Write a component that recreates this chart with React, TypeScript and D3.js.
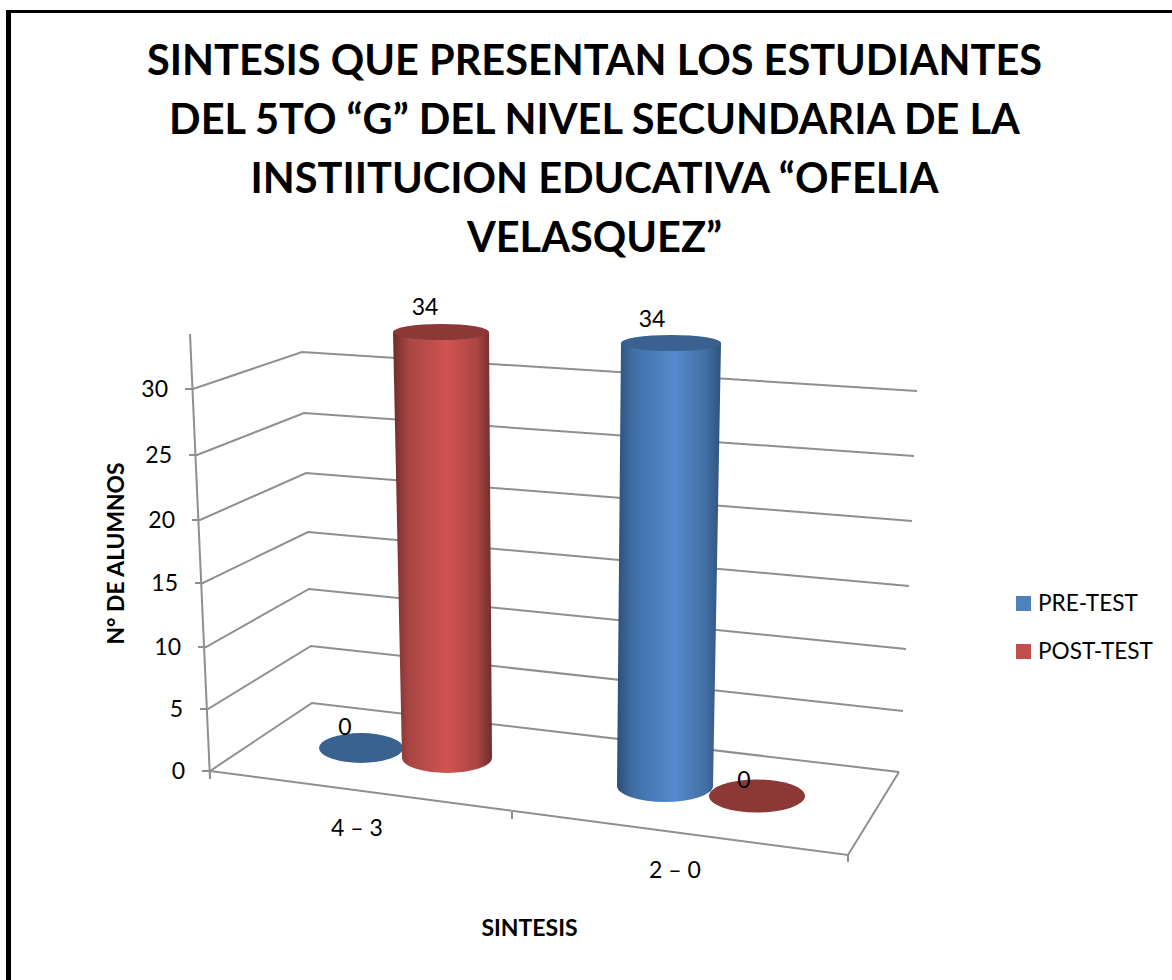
import React from "react";
import * as d3 from "d3";

const titleLines = [
  "SINTESIS QUE PRESENTAN LOS ESTUDIANTES",
  "DEL 5TO “G” DEL NIVEL SECUNDARIA DE LA",
  "INSTIITUCION EDUCATIVA “OFELIA",
  "VELASQUEZ”",
];
const categories = ["4 – 3", "2 – 0"];
const seriesNames = ["PRE-TEST", "POST-TEST"];
const preTest = [0, 34];
const postTest = [34, 0];
const yTicks = [0, 5, 10, 15, 20, 25, 30];
const xAxisTitle = "SINTESIS";
const yAxisTitle = "N° DE ALUMNOS";

const FONT = "Lato, 'Open Sans', sans-serif";
const GRID = "#8f8f8f";

// perspective of the 3D box, expressed as piecewise scales over the value axis
const frontX = d3.scaleLinear().domain(yTicks).range([210, 208, 206, 203, 200, 197, 193]);
const frontY = d3.scaleLinear().domain(yTicks).range([771, 709, 647, 583, 520, 455, 389]);
const backX = d3.scaleLinear().domain(yTicks).range([312, 311, 309, 308, 306, 304, 302]);
const backY = d3.scaleLinear().domain(yTicks).range([703, 646, 589, 532, 473, 413, 352]);
const rightX = d3.scaleLinear().domain(yTicks).range([899, 903, 906, 909, 912, 914, 917]);
const rightY = d3.scaleLinear().domain(yTicks).range([772, 711, 649, 586, 521, 456, 391]);

const catX = d3.scaleLinear().domain([0, 1, 2]).range([210, 512, 848]);
const catY = d3.scaleLinear().domain([0, 1, 2]).range([771, 812, 855]);

// geometry of each cylinder slot [category][series]
const slots = [
  [
    { bx: 361, by: 748, brx: 42, bry: 15, tx: 357, trx: 41, labelX: 345, labelY: 727 },
    { bx: 447, by: 758, brx: 45, bry: 15, tx: 441, trx: 48, labelX: 425, labelY: 307 },
  ],
  [
    { bx: 665, by: 786, brx: 48, bry: 16, tx: 671, trx: 50, labelX: 652, labelY: 319 },
    { bx: 757, by: 796, brx: 48, bry: 16.5, tx: 760, trx: 47, labelX: 744, labelY: 780 },
  ],
];
const barTop = [
  [null, 332],
  [343, null],
];
const palette = [
  { top: "#3a6291", id: "gradBlue", legend: "#4f81bd" },
  { top: "#8c3836", id: "gradRed", legend: "#c0504d" },
];

function cylinderPath(bx: number, by: number, brx: number, bry: number, tx: number, trx: number, ty: number) {
  return `M${tx - trx},${ty} L${bx - brx},${by} A${brx},${bry} 0 0 0 ${bx + brx},${by} L${tx + trx},${ty} Z`;
}

export default function App() {
  const series = [preTest, postTest];
  const marks = categories.flatMap((_, c) =>
    series.map((values, s) => ({ c, s, v: values[c], slot: slots[c][s], top: barTop[c][s] }))
  );

  return (
    <svg
      width={1172}
      height={980}
      viewBox="0 0 1172 980"
      style={{ position: "absolute", left: 0, top: 0, background: "#fff" }}
      fontFamily={FONT}
    >
      <defs>
        <linearGradient id="gradBlue" x1="0" x2="1" y1="0" y2="0">
          <stop offset="0" stopColor="#2c4f7a" />
          <stop offset="0.16" stopColor="#406fa6" />
          <stop offset="0.55" stopColor="#558ace" />
          <stop offset="0.85" stopColor="#426fa5" />
          <stop offset="1" stopColor="#2f527c" />
        </linearGradient>
        <linearGradient id="gradRed" x1="0" x2="1" y1="0" y2="0">
          <stop offset="0" stopColor="#6f2d2b" />
          <stop offset="0.16" stopColor="#a94644" />
          <stop offset="0.55" stopColor="#cf5450" />
          <stop offset="0.85" stopColor="#a94542" />
          <stop offset="1" stopColor="#6f2d2b" />
        </linearGradient>
      </defs>

      {/* page frame */}
      <rect x={6} y={10} width={1166} height={3} fill="#000" />
      <rect x={6} y={10} width={5} height={970} fill="#000" />

      {titleLines.map((t, i) => (
        <text key={t} x={594.5} y={75 + i * 59} textAnchor="middle" fontSize={41.5} fontWeight={700} fill="#000">
          {t}
        </text>
      ))}

      {/* walls */}
      <g stroke={GRID} strokeWidth={2} fill="none">
        {yTicks.map((v) => (
          <path
            key={v}
            d={d3.line()([
              [frontX(v) - 8, frontY(v)],
              [frontX(v), frontY(v)],
              [backX(v), backY(v)],
              [rightX(v), rightY(v)],
            ]) as string}
          />
        ))}
        <line x1={frontX(0)} y1={frontY(0) + 8} x2={190} y2={334} />
        <path d={`M${frontX(0)},${frontY(0)} L${catX(2)},${catY(2)} L${rightX(0)},${rightY(0)}`} />
        {[0, 1, 2].map((c) => (
          <line key={c} x1={catX(c)} y1={catY(c)} x2={catX(c)} y2={catY(c) + 7} />
        ))}
      </g>

      {/* tick labels */}
      {yTicks.map((v) => (
        <text key={v} x={frontX(v) - 25} y={frontY(v) + 8} textAnchor="end" fontSize={23} fill="#000">
          {v}
        </text>
      ))}
      {categories.map((c, i) => (
        <text key={c} x={i === 0 ? 357 : 675} y={i === 0 ? 836 : 878} textAnchor="middle" fontSize={23} fill="#000">
          {c}
        </text>
      ))}

      {/* cylinders */}
      {marks.map(({ c, s, v, slot, top }) => {
        const color = palette[s];
        if (v === 0 || top === null) {
          return <ellipse key={`${c}-${s}`} cx={slot.bx} cy={slot.by} rx={slot.brx} ry={slot.bry} fill={color.top} />;
        }
        const y = d3.scaleLinear().domain([0, 34]).range([slot.by, top]);
        const ty = y(v);
        return (
          <g key={`${c}-${s}`}>
            <path
              d={cylinderPath(slot.bx, slot.by, slot.brx, slot.bry, slot.tx, slot.trx, ty)}
              fill={`url(#${color.id})`}
            />
            <ellipse cx={slot.tx} cy={ty} rx={slot.trx} ry={8} fill={color.top} />
          </g>
        );
      })}

      {/* data labels */}
      {marks.map(({ c, s, v, slot }) => (
        <text key={`l${c}-${s}`} x={slot.labelX} y={slot.labelY + 8} textAnchor="middle" fontSize={23} fill="#000">
          {v}
        </text>
      ))}

      {/* axis titles */}
      <text x={529.5} y={936} textAnchor="middle" fontSize={23} fontWeight={700} fill="#000">
        {xAxisTitle}
      </text>
      <text transform="translate(124,553.5) rotate(-90)" textAnchor="middle" fontSize={22.8} fontWeight={700} fill="#000">
        {yAxisTitle}
      </text>

      {/* legend */}
      {seriesNames.map((n, i) => (
        <g key={n} transform={`translate(1016,${596 + i * 48})`}>
          <rect width={15} height={15} fill={palette[i].legend} />
          <text x={22} y={15} fontSize={22.6} fill="#000">
            {n}
          </text>
        </g>
      ))}
    </svg>
  );
}
